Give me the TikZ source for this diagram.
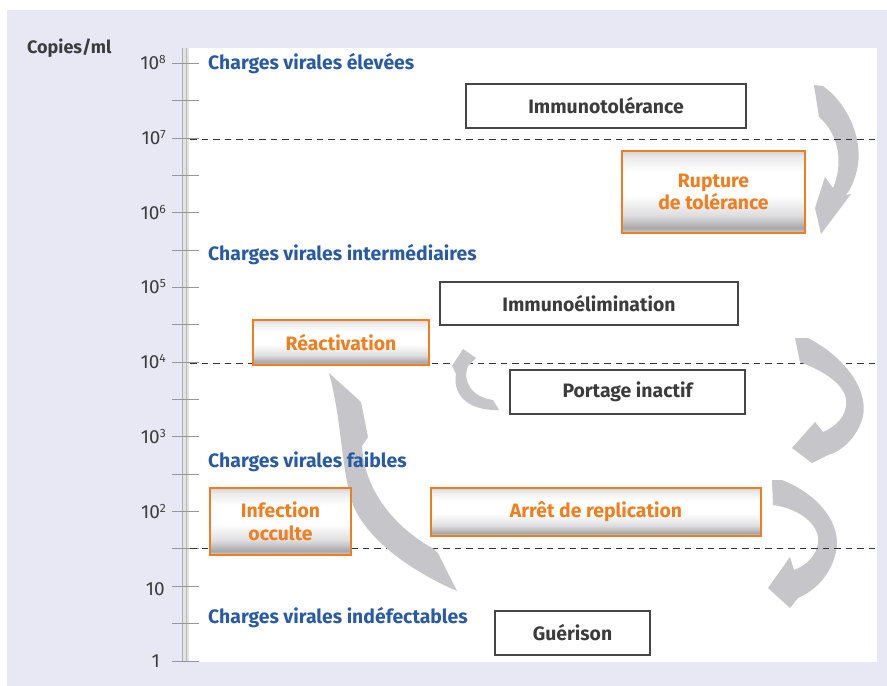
\documentclass[tikz,border=0pt]{standalone}
\usepackage{fontspec}
\setmainfont{Fira Sans}
\definecolor{lav}{RGB}{232,232,244}
\definecolor{arrowgrey}{RGB}{198,198,202}
\definecolor{orng}{RGB}{240,125,30}
\definecolor{blu}{RGB}{40,90,165}
\definecolor{dark}{RGB}{60,60,60}
\definecolor{boxgrey}{RGB}{70,70,70}
\definecolor{tickgrey}{RGB}{150,150,150}
\definecolor{mA}{RGB}{210,210,210}
\definecolor{mB}{RGB}{168,168,171}
\definecolor{mC}{RGB}{222,222,224}
\definecolor{mD}{RGB}{236,236,238}
\definecolor{mE}{RGB}{212,212,214}
\pgfdeclareverticalshading{metal}{100bp}{color(0bp)=(mA); color(25bp)=(mA); color(28bp)=(mB); color(36bp)=(mC); color(48bp)=(white); color(62bp)=(white); color(71bp)=(mD); color(75bp)=(mE); color(100bp)=(mE)}
\begin{document}
\begin{tikzpicture}[x=1pt,y=-1pt,
  lbl/.style={font=\fontsize{19.4}{22}\selectfont\bfseries, text=blu, anchor=west, inner sep=0},
  tickline/.style={draw=tickgrey, line width=0.8pt},
  num/.style={font=\fontsize{19}{22}\selectfont, text=dark, anchor=base east, inner sep=0},
  boxfont/.style={font=\fontsize{19.4}{22.5}\selectfont\bfseries},
  wbox/.style={boxfont, draw=boxgrey, line width=1.3pt, fill=white, inner sep=0, text=dark},
  obox/.style={boxfont, draw=orng, line width=2.4pt, shading=metal, inner sep=0, text=orng, align=center},
  dline/.style={draw=black!80, line width=1pt, dash pattern=on 6.5pt off 5pt},
  arr/.style={fill=arrowgrey, draw=none}
]
\useasboundingbox (0,0) rectangle (887,686);
% background
\fill[white] (0,0) rectangle (887,686);
\fill[lav] (7,10) rectangle (887,686);
\fill[white] (189,48) rectangle (877,662);
% axis bar
\fill[gray!22] (182,48) rectangle (189,662);
\draw[gray!65, line width=0.7pt] (182.4,48) -- (182.4,662);
\draw[gray!55, line width=0.7pt] (186.5,48) -- (186.5,662);
% ticks
\foreach \k in {0,...,16}{
  \pgfmathsetmacro{\ty}{63.3+37.35*\k}
  \draw[tickline] (172,\ty) -- (199,\ty);
}
\foreach \k/\e in {0/8,2/7,4/6,6/5,8/4,10/3,12/2}{
  \pgfmathsetmacro{\ty}{63.3+37.35*\k+6.5}
  \node[num] (n\e) at (166,\ty) {10\raisebox{6pt}{\fontsize{12}{12}\selectfont\e}};
}
\node[num] (n1) at (165,595) {10};
\node[num] (n0) at (160,667) {1};
\node[font=\fontsize{18}{21}\selectfont\bfseries, text=dark, anchor=west, inner sep=0] (unit) at (27,48) {Copies/ml};

% arrows under dashed lines
% arrow 1 (top right)
\fill[arr] (814,85) -- (823,86) .. controls (848,104) and (864,140) .. (857,170)
  .. controls (854,183) and (849,191) .. (846,195) -- (851,194) -- (821,234) -- (815,208)
  -- (825,177) -- (833,188) .. controls (843,165) and (840,135) .. (819,117) -- cycle;
% arrow 3 (lower right)
\fill[arr] (772,480) -- (782,480) .. controls (820,495) and (842,525) .. (836,552)
  .. controls (830,578) and (812,592) .. (798,598) -- (790,608) -- (768,588) -- (790,557)
  -- (794,570) .. controls (808,565) and (820,552) .. (818,537)
  .. controls (815,520) and (795,508) .. (773,505) -- cycle;

% dashed lines
\draw[dline] (190,139.3) -- (877,139.3);
\draw[dline] (190,363.4) -- (877,363.4);
\draw[dline] (190,548.8) -- (877,548.8);

% arrow 2 (middle right)
\fill[arr] (795,338) -- (808,338) .. controls (850,360) and (870,395) .. (862,420)
  .. controls (855,440) and (840,452) .. (828,455) -- (812,463) -- (792,448) -- (815,422)
  -- (823,432) .. controls (840,425) and (850,410) .. (845,395)
  .. controls (838,378) and (815,368) .. (800,362) -- cycle;
% arrow 4 (small)
\fill[arr] (499,410) .. controls (472,411) and (452,398) .. (456,374) -- (452,366) -- (463,349)
  -- (476,358) -- (468,366) .. controls (462,382) and (472,397) .. (493,400) -- cycle;
% arrow 5 (long, upward)
\fill[arr] (457,591) .. controls (420,575) and (370,545) .. (353,505)
  .. controls (341,470) and (342,420) .. (329,373) -- (361,402) -- (368,437) -- (362,446)
  .. controls (364,490) and (395,528) .. (434,549) -- (438,553) -- cycle;

% zone labels
\node[lbl] (l1) at (208,64) {Charges virales élevées};
\node[lbl] (l2) at (208,255) {Charges virales intermédiaires};
\node[lbl] (l3) at (208,462) {Charges virales faibles};
\node[lbl] (l4) at (208,618) {Charges virales indéfectables};

% boxes
\node[wbox, minimum width=280, minimum height=44] (immtol) at (606,106) {Immunotolérance};
\node[obox, minimum width=183, minimum height=82] (rupt) at (713.5,192) {Rupture\\de tolérance};
\node[wbox, minimum width=298, minimum height=43] (immel) at (589,303.5) {Immunoélimination};
\node[obox, minimum width=176, minimum height=45] (react) at (341,342.5) {Réactivation};
\node[wbox, minimum width=235, minimum height=44] (port) at (627.5,392) {Portage inactif};
\node[obox, minimum width=330, minimum height=48] (arret) at (596,512) {Arrêt de replication};
\node[obox, minimum width=141, minimum height=67] (occ) at (280.5,521.5) {Infection\\occulte};
\node[wbox, minimum width=155, minimum height=44] (guer) at (572.5,633) {Guérison};
\end{tikzpicture}
\end{document}
